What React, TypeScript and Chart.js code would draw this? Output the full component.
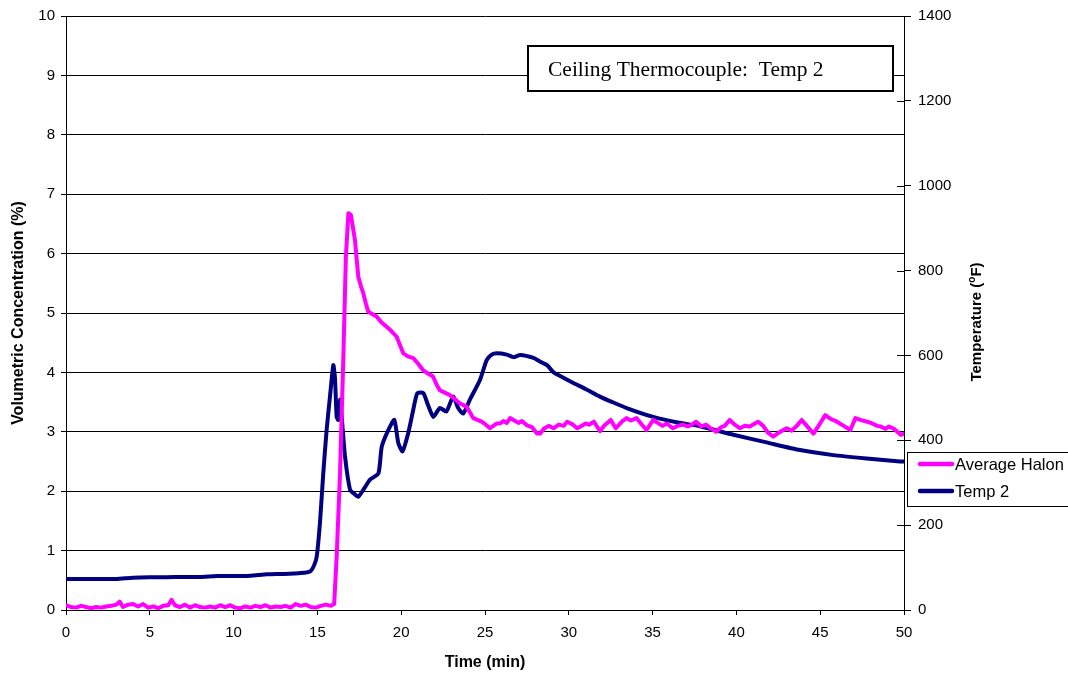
import React, { useEffect, useRef } from "react";
import { Chart, registerables } from "chart.js";

Chart.register(...registerables);

// ---- Data ----
const halonTime = [
  0, 0.3, 0.6, 0.9, 1.2, 1.5, 1.8, 2.1, 2.4, 2.7, 3.0, 3.2, 3.4, 3.7, 4.0, 4.3, 4.6, 4.9, 5.2, 5.5,
  5.8, 6.1, 6.3, 6.5, 6.8, 7.1, 7.4, 7.7, 8.0, 8.3, 8.6, 8.9, 9.2, 9.5, 9.8, 10.1, 10.4, 10.7, 11.0,
  11.3, 11.6, 11.9, 12.2, 12.5, 12.8, 13.1, 13.4, 13.7, 14.0, 14.3, 14.6, 14.9, 15.2, 15.5, 15.8, 16.0,
  16.15, 16.35, 16.55, 16.7, 16.85, 17.0, 17.24, 17.44, 17.6, 17.74, 17.9, 18.04, 18.3, 18.53, 18.8,
  19.13, 19.4, 19.73, 19.9, 20.13, 20.4, 20.72, 21.0, 21.3, 21.6, 21.9, 22.1, 22.3, 22.6, 22.9, 23.2,
  23.5, 23.7, 23.9, 24.1, 24.3, 24.55, 24.8, 25.05, 25.3, 25.5, 25.7, 25.9, 26.1, 26.3, 26.5, 26.7,
  27.0, 27.2, 27.5, 27.8, 28.1, 28.3, 28.5, 28.8, 29.1, 29.4, 29.7, 29.9, 30.2, 30.5, 30.7, 31.0,
  31.2, 31.5, 31.7, 31.86, 32.1, 32.3, 32.5, 32.8, 33.0, 33.2, 33.45, 33.7, 34.05, 34.3, 34.64, 34.85,
  35.04, 35.3, 35.6, 35.84, 36.2, 36.5, 36.8, 37.1, 37.35, 37.6, 37.9, 38.2, 38.5, 38.8, 39.1, 39.3,
  39.6, 39.9, 40.2, 40.5, 40.8, 41.05, 41.3, 41.6, 41.9, 42.2, 42.5, 42.8, 43.0, 43.3, 43.6, 43.9,
  44.2, 44.6, 44.9, 45.3, 45.6, 46.0, 46.4, 46.8, 47.1, 47.4, 47.8, 48.1, 48.4, 48.6, 48.9, 49.1,
  49.4, 49.6, 49.8, 50.0,
];
const halonPct = [
  0.08, 0.05, 0.04, 0.07, 0.05, 0.03, 0.05, 0.04, 0.06, 0.07, 0.09, 0.14, 0.05, 0.09, 0.1, 0.06, 0.1,
  0.04, 0.06, 0.03, 0.07, 0.08, 0.17, 0.08, 0.05, 0.09, 0.04, 0.08, 0.05, 0.04, 0.06, 0.04, 0.08, 0.05,
  0.08, 0.04, 0.03, 0.06, 0.04, 0.07, 0.05, 0.08, 0.04, 0.06, 0.05, 0.07, 0.04, 0.1, 0.07, 0.09, 0.05,
  0.04, 0.07, 0.09, 0.07, 0.1,
  0.9, 2.3, 4.27, 5.95, 6.68, 6.65, 6.23, 5.61, 5.45, 5.33, 5.15, 5.02, 4.98, 4.94, 4.85,
  4.77, 4.7, 4.6, 4.48, 4.32, 4.27, 4.24, 4.15, 4.04, 3.98, 3.93, 3.8, 3.7, 3.66, 3.62, 3.55,
  3.48, 3.45, 3.42, 3.33, 3.23, 3.2, 3.17, 3.12, 3.06, 3.1, 3.14, 3.14, 3.18, 3.15, 3.23, 3.2,
  3.15, 3.18, 3.11, 3.08, 2.97, 2.97, 3.05, 3.1, 3.06, 3.12, 3.1, 3.17, 3.13, 3.06, 3.09, 3.14,
  3.12, 3.17, 3.08, 3.01, 3.1, 3.15, 3.2, 3.06, 3.12, 3.18, 3.23, 3.19, 3.23, 3.14, 3.03, 3.12,
  3.2, 3.15, 3.1, 3.14, 3.06, 3.1, 3.12, 3.09, 3.12, 3.17, 3.09, 3.12, 3.05, 3.0, 3.08, 3.1,
  3.2, 3.12, 3.06, 3.1, 3.09, 3.13, 3.17, 3.1, 2.98, 2.92, 2.98, 3.03, 3.06, 3.02, 3.1, 3.2,
  3.1, 2.97, 3.1, 3.28, 3.22, 3.17, 3.1, 3.03, 3.23, 3.2, 3.17, 3.14, 3.1, 3.09, 3.05, 3.09,
  3.05, 3.0, 2.95, 2.97,
];

const tempTime = [
  0, 1, 2, 3, 4, 5, 6, 7, 8, 9, 10, 11, 12, 13, 14, 14.56, 14.8, 14.96, 15.15, 15.35, 15.55, 15.75,
  15.95, 16.05, 16.15, 16.25, 16.35, 16.45, 16.65, 16.95, 17.2, 17.44, 17.8, 18.14, 18.64, 18.84,
  19.23, 19.59, 19.83, 20.08, 20.42, 20.72, 20.96, 21.32, 21.6, 21.92, 22.3, 22.7, 23.1, 23.4, 23.7,
  24.1, 24.7, 25.1, 25.4, 25.7, 26.3, 26.7, 27.1, 27.9, 28.3, 28.7, 29.07, 29.4, 30.27, 31.0, 31.86,
  32.6, 33.45, 35.04, 36.5, 37.83, 39.82, 41.8, 43.8, 45.78, 47.77, 49.76, 50,
];
const tempF = [
  73, 73, 73, 73, 76, 77, 77, 78, 78, 80, 80, 81, 84, 85, 87, 91, 105, 126, 204, 322, 424, 503,
  577, 546, 455, 448, 496, 455, 361, 283, 274, 267, 287, 307, 322, 385,
  424, 448, 393, 374, 417, 472, 511, 511, 483, 455, 476, 468, 503, 476, 463,
  496, 542, 589, 602, 605, 602, 596, 601, 594, 585, 577, 561, 553, 535, 521, 503,
  490, 476, 455, 442, 433, 413, 395, 377, 365, 357, 350, 350,
];

const xTickValues = [0, 5, 10, 15, 20, 25, 30, 35, 40, 45, 50];
const leftTickValues = [0, 1, 2, 3, 4, 5, 6, 7, 8, 9, 10];
const rightTickValues = [0, 200, 400, 600, 800, 1000, 1200, 1400];

const seriesNames = ["Average Halon", "Temp 2"];
const seriesColors = ["#FF00FF", "#000080"];
const annotationText = "Ceiling Thermocouple:  Temp 2";
const xTitle = "Time (min)";
const leftTitle = "Volumetric Concentration (%)";

const SANS = "'Liberation Sans', Arial, sans-serif";
const SERIF = "'Liberation Serif', 'Times New Roman', serif";

const overlayPlugin = {
  id: "overlay",
  beforeDraw(chart: any) {
    const ctx = chart.ctx;
    ctx.save();
    ctx.fillStyle = "#fff";
    ctx.fillRect(0, 0, chart.width, chart.height);
    ctx.restore();
  },
  afterDraw(chart: any) {
    const ctx = chart.ctx;
    const y1 = chart.scales.y1;
    const area = chart.chartArea;
    ctx.save();
    // inner ticks on right axis (cross shape)
    ctx.strokeStyle = "#000";
    ctx.lineWidth = 1;
    rightTickValues.forEach((v) => {
      const py = Math.round(y1.getPixelForValue(v)) + 0.5;
      ctx.beginPath();
      ctx.moveTo(area.right - 7, py);
      ctx.lineTo(area.right, py);
      ctx.stroke();
    });

    // annotation box
    ctx.fillStyle = "#fff";
    ctx.fillRect(528, 46, 365, 45);
    ctx.lineWidth = 2;
    ctx.strokeStyle = "#000";
    ctx.strokeRect(528, 46, 365, 45);
    ctx.fillStyle = "#000";
    ctx.font = `21.5px ${SERIF}`;
    ctx.textBaseline = "middle";
    ctx.textAlign = "left";
    ctx.fillText(annotationText, 548, 70);

    // right axis title, reading bottom to top, with superscript o
    ctx.save();
    ctx.translate(976, 322);
    ctx.rotate(-Math.PI / 2);
    const bold = `bold 15px ${SANS}`;
    const boldSmall = `bold 10px ${SANS}`;
    ctx.font = bold;
    const p1 = "Temperature (";
    const p3 = "F)";
    const w1 = ctx.measureText(p1).width;
    const w3 = ctx.measureText(p3).width;
    ctx.font = boldSmall;
    const w2 = ctx.measureText("o").width;
    const total = w1 + w2 + w3;
    let x0 = -total / 2;
    ctx.textBaseline = "alphabetic";
    ctx.font = bold;
    ctx.fillText(p1, x0, 5);
    ctx.font = boldSmall;
    ctx.fillText("o", x0 + w1, -1);
    ctx.font = bold;
    ctx.fillText(p3, x0 + w1 + w2, 5);
    ctx.restore();

    // legend
    ctx.fillStyle = "#fff";
    ctx.fillRect(907.5, 452.5, 170, 54);
    ctx.lineWidth = 1;
    ctx.strokeStyle = "#000";
    ctx.strokeRect(907.5, 452.5, 170, 54);
    const rows = [464, 491];
    ctx.font = `16.5px ${SANS}`;
    ctx.textBaseline = "middle";
    rows.forEach((ry, i) => {
      ctx.strokeStyle = seriesColors[i];
      ctx.lineWidth = 4.5;
      ctx.lineCap = "round";
      ctx.beginPath();
      ctx.moveTo(920, ry);
      ctx.lineTo(952, ry);
      ctx.stroke();
      ctx.fillStyle = "#000";
      ctx.fillText(seriesNames[i], 955, ry + 1);
    });
    ctx.restore();
  },
};

export default function App() {
  const ref = useRef<HTMLCanvasElement | null>(null);
  useEffect(() => {
    if (!ref.current) return;
    const halonData = halonTime.map((t, i) => ({ x: t, y: halonPct[i] }));
    const tempData = tempTime.map((t, i) => ({ x: t, y: tempF[i] }));
    const tickFont = { family: SANS, size: 15 };
    const titleFont = { family: SANS, size: 16, weight: "bold" as const };
    const plain = (v: any) => String(v);
    const chart = new Chart(ref.current, {
      type: "line",
      data: {
        datasets: [
          {
            label: seriesNames[0],
            data: halonData,
            yAxisID: "y",
            borderColor: seriesColors[0],
            backgroundColor: seriesColors[0],
            borderWidth: 4,
            pointRadius: 0,
            tension: 0,
            borderJoinStyle: "round",
            borderCapStyle: "round",
          },
          {
            label: seriesNames[1],
            data: tempData,
            yAxisID: "y1",
            borderColor: seriesColors[1],
            backgroundColor: seriesColors[1],
            borderWidth: 4,
            pointRadius: 0,
            tension: 0.2,
            borderJoinStyle: "round",
            borderCapStyle: "round",
          },
        ],
      },
      options: {
        animation: false,
        responsive: false,
        devicePixelRatio: 1,
        layout: { padding: { top: 16, left: 0, right: 0, bottom: 0 } },
        plugins: {
          legend: { display: false },
          tooltip: { enabled: false },
        },
        scales: {
          x: {
            type: "linear",
            position: "bottom",
            min: 0,
            max: 50,
            afterBuildTicks: (s: any) => {
              s.ticks = xTickValues.map((v) => ({ value: v }));
            },
            afterFit: (s: any) => {
              s.height = 67;
            },
            ticks: { color: "#000", font: tickFont, padding: 9, maxRotation: 0, callback: plain },
            grid: { drawOnChartArea: false, drawTicks: true, tickLength: 5, color: "#000" },
            border: { color: "#000", width: 1 },
            title: {
              display: true,
              text: xTitle,
              color: "#000",
              font: titleFont,
              padding: { top: 0, bottom: 5 },
            },
          },
          y: {
            type: "linear",
            position: "left",
            min: 0,
            max: 10,
            afterBuildTicks: (s: any) => {
              s.ticks = leftTickValues.map((v) => ({ value: v }));
            },
            afterFit: (s: any) => {
              s.width = 66;
            },
            ticks: { color: "#000", font: tickFont, padding: 6, callback: plain },
            grid: { drawOnChartArea: true, drawTicks: true, tickLength: 5, color: "#000", lineWidth: 1 },
            border: { color: "#000", width: 1 },
            title: {
              display: true,
              text: leftTitle,
              color: "#000",
              font: titleFont,
              padding: { top: 9, bottom: 0 },
            },
          },
          y1: {
            type: "linear",
            position: "right",
            min: 0,
            max: 1400,
            afterBuildTicks: (s: any) => {
              s.ticks = rightTickValues.map((v) => ({ value: v }));
            },
            afterFit: (s: any) => {
              s.width = 164;
            },
            ticks: { color: "#000", font: tickFont, padding: 7, callback: plain },
            grid: { drawOnChartArea: false, drawTicks: true, tickLength: 7, color: "#000" },
            border: { color: "#000", width: 1 },
          },
        },
      },
      plugins: [overlayPlugin],
    });
    return () => chart.destroy();
  }, []);
  return (
    <div style={{ position: "fixed", left: 0, top: 0, width: 1068, height: 677 }}>
      <canvas ref={ref} width={1068} height={677} />
    </div>
  );
}
